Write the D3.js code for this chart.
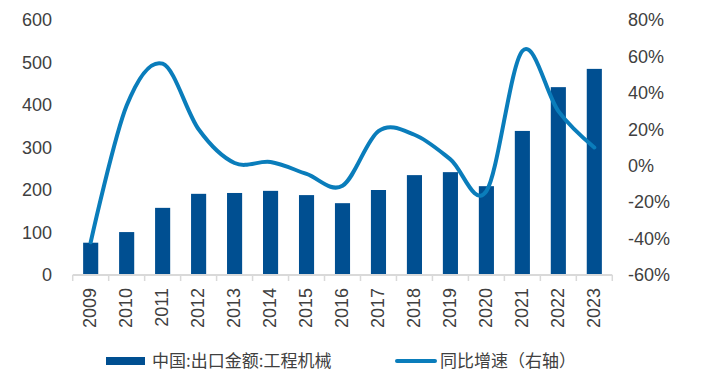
<!DOCTYPE html>
<html>
<head>
<meta charset="utf-8">
<script src="https://cdn.jsdelivr.net/npm/d3@7"></script>
<style>
  body { margin: 0; background: #fff; }
  text { font-family: "Liberation Sans", Arial, "Noto Sans CJK SC", sans-serif; fill: #404040; }
</style>
</head>
<body>
<div id="chart"></div>
<script>
// Data
const years = ["2009", "2010", "2011", "2012", "2013", "2014", "2015", "2016",
               "2017", "2018", "2019", "2020", "2021", "2022", "2023"];
const exportValue = [76, 101, 158, 191, 193, 198, 188, 169, 200, 235, 242, 209, 339, 442, 485];
const yoyGrowth = [-42, 33, 56, 20, 1.5, 2, -4.5, -11, 19, 17, 3.5, -14, 63, 30, 10];
const leftTicks = [0, 100, 200, 300, 400, 500, 600];
const rightTicks = [-60, -40, -20, 0, 20, 40, 60, 80];
const barName = "中国:出口金额:工程机械";
const lineName = "同比增速（右轴）";

const W = 720, H = 382;
const barColor = "#004F91";
const lineColor = "#0A7DBB";

const svg = d3.select("#chart").append("svg")
  .attr("width", W)
  .attr("height", H);

// Scales
const x = d3.scaleBand()
  .domain(years)
  .range([72.7, 612.3])
  .paddingInner(0.58)
  .paddingOuter(0.29);

const yLeft = d3.scaleLinear().domain([0, 600]).range([275, 20]);
const yRight = d3.scaleLinear().domain([-60, 80]).range([275, 20]);

// Bars
svg.selectAll(".bar")
  .data(exportValue)
  .enter().append("rect")
  .attr("class", "bar")
  .attr("x", (d, i) => x(years[i]))
  .attr("y", d => yLeft(d))
  .attr("width", x.bandwidth())
  .attr("height", d => yLeft(0) - yLeft(d))
  .attr("fill", barColor);

// X axis (gray line with ticks between categories)
const xAxis = svg.append("g").attr("transform", `translate(0,${yLeft(0)})`);
xAxis.append("line")
  .attr("x1", 72.7).attr("x2", 612.3)
  .attr("y1", 0).attr("y2", 0)
  .attr("stroke", "#d9d9d9").attr("stroke-width", 2);
const step = x.step();
xAxis.selectAll(".tk")
  .data(d3.range(years.length + 1))
  .enter().append("line")
  .attr("x1", i => 72.7 + i * step).attr("x2", i => 72.7 + i * step)
  .attr("y1", 0).attr("y2", 6)
  .attr("stroke", "#d9d9d9").attr("stroke-width", 1.5);
xAxis.selectAll(".lbl")
  .data(years)
  .enter().append("text")
  .attr("transform", d => `translate(${x(d) + x.bandwidth() / 2 - 1},13) rotate(-90)`)
  .attr("dy", "0.36em")
  .attr("text-anchor", "end")
  .style("font-size", "18px")
  .text(d => d);

// Left axis
svg.append("g")
  .attr("transform", "translate(52,0)")
  .call(d3.axisLeft(yLeft).tickValues(leftTicks).tickSize(0).tickPadding(0))
  .call(g => g.select(".domain").remove())
  .selectAll("text")
  .style("font-size", "18px")
  .style("font-family", "Liberation Sans, Arial, sans-serif")
  .attr("fill", "#404040");

// Right axis
svg.append("g")
  .attr("transform", "translate(628,0)")
  .call(d3.axisRight(yRight).tickValues(rightTicks).tickSize(0).tickPadding(0)
    .tickFormat(d => d + "%"))
  .call(g => g.select(".domain").remove())
  .selectAll("text")
  .style("font-size", "18px")
  .style("font-family", "Liberation Sans, Arial, sans-serif")
  .attr("fill", "#404040");

// Smoothed growth line
const line = d3.line()
  .x((d, i) => x(years[i]) + x.bandwidth() / 2)
  .y(d => yRight(d))
  .curve(d3.curveCardinal.tension(0));

svg.append("path")
  .datum(yoyGrowth)
  .attr("d", line)
  .attr("fill", "none")
  .attr("stroke", lineColor)
  .attr("stroke-width", 4)
  .attr("stroke-linecap", "round")
  .attr("stroke-linejoin", "round");

// Legend
const legend = svg.append("g");
legend.append("rect")
  .attr("x", 106).attr("y", 357)
  .attr("width", 39).attr("height", 8)
  .attr("fill", barColor);
legend.append("text")
  .attr("x", 152).attr("y", 361)
  .attr("dy", "0.36em")
  .style("font-size", "17px")
  .style("font-family", "Noto Sans CJK SC, sans-serif")
  .text(barName);

legend.append("line")
  .attr("x1", 397).attr("x2", 435)
  .attr("y1", 361).attr("y2", 361)
  .attr("stroke", lineColor)
  .attr("stroke-width", 4)
  .attr("stroke-linecap", "round");
legend.append("text")
  .attr("x", 440).attr("y", 361)
  .attr("dy", "0.36em")
  .style("font-size", "17px")
  .style("font-family", "Noto Sans CJK SC, sans-serif")
  .text(lineName);
</script>
</body>
</html>
